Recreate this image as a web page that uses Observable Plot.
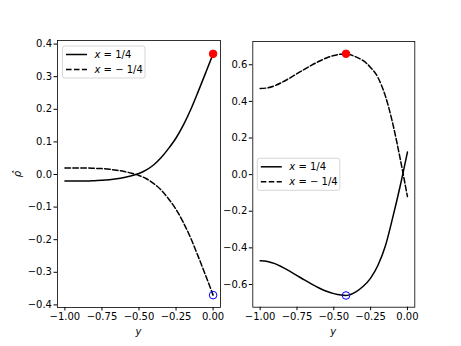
<!DOCTYPE html>
<html><head><meta charset="utf-8">
<script src="https://cdn.jsdelivr.net/npm/d3@7"></script>
<script src="https://cdn.jsdelivr.net/npm/@observablehq/plot@0.6"></script>
<style>
body{margin:0;background:#fff;}
#wrap{position:relative;width:461px;height:346px;font-family:"DejaVu Sans";}
#wrap svg{position:absolute;top:0;overflow:visible;}
</style></head><body><div id="wrap"></div>
<script>
// ---- data ----
const yLeft = [-1.00,-0.95,-0.90,-0.85,-0.80,-0.75,-0.70,-0.65,-0.60,-0.55,-0.50,-0.45,-0.40,-0.35,-0.30,-0.25,-0.20,-0.15,-0.10,-0.05,0.00];
const leftSolid  = [-0.020,-0.020,-0.020,-0.020,-0.019,-0.018,-0.016,-0.013,-0.009,-0.004,0.003,0.014,0.030,0.052,0.080,0.112,0.152,0.200,0.255,0.312,0.370];
const leftDashed = [0.020,0.020,0.020,0.020,0.019,0.018,0.016,0.013,0.009,0.004,-0.003,-0.013,-0.028,-0.048,-0.075,-0.107,-0.148,-0.196,-0.252,-0.310,-0.370];
const leftMax = [{y:0.0, v:0.37}];
const leftMin = [{y:0.0, v:-0.37}];

const yRight = [-1.00,-0.95,-0.90,-0.85,-0.80,-0.75,-0.70,-0.65,-0.60,-0.55,-0.50,-0.45,-0.42,-0.40,-0.35,-0.30,-0.25,-0.20,-0.15,-0.10,-0.05,0.00];
const rightSolid  = [-0.470,-0.474,-0.486,-0.505,-0.527,-0.551,-0.575,-0.598,-0.619,-0.637,-0.650,-0.658,-0.660,-0.658,-0.640,-0.610,-0.565,-0.495,-0.390,-0.235,-0.065,0.123];
const rightDashed = [0.470,0.474,0.486,0.505,0.527,0.551,0.575,0.598,0.619,0.637,0.650,0.658,0.660,0.657,0.643,0.622,0.585,0.530,0.430,0.280,0.090,-0.120];
const rightMax = [{y:-0.417, v:0.66}];
const rightMin = [{y:-0.417, v:-0.66}];

const xTicks = [-1.00,-0.75,-0.50,-0.25,0.00];
const leftYTicks = [-0.4,-0.3,-0.2,-0.1,0.0,0.1,0.2,0.3,0.4];
const rightYTicks = [-0.6,-0.4,-0.2,0.0,0.2,0.4,0.6];
const legendLabels = ["1/4", "\u2212 1/4"];
const xLabel = "y";
const yLabel = "\u03C1\u0302";

const rows = (ys, vs) => ys.map((y, i) => ({y, v: vs[i]}));

function panel({width, marginLeft, marginRight, marginTop, marginBottom, yDomain, yTicks, yFmt, solid, dashed, maxPt, minPt}) {
  return Plot.plot({
    width, height: 346, marginLeft, marginRight, marginTop, marginBottom,
    style: {fontFamily: "DejaVu Sans", fontSize: "10px", color: "black", background: "transparent", overflow: "visible"},
    x: {domain: [-1.05, 0.05]},
    y: {domain: yDomain},
    marks: [
      Plot.axisX({ticks: xTicks, tickFormat: d3.format(".2f"), tickSize: 3.5, tickPadding: 2, label: null, fontSize: 10}),
      Plot.axisY({ticks: yTicks, tickFormat: d3.format(yFmt), tickSize: 3.5, tickPadding: 2, label: null, fontSize: 10}),
      Plot.line(solid, {x: "y", y: "v", stroke: "black", strokeWidth: 1.5, curve: "monotone-x"}),
      Plot.line(dashed, {x: "y", y: "v", stroke: "black", strokeWidth: 1.5, strokeDasharray: "5.55,2.4", curve: "monotone-x"}),
      Plot.dot(maxPt, {x: "y", y: "v", r: 3.8, fill: "red", stroke: "red", strokeWidth: 1}),
      Plot.dot(minPt, {x: "y", y: "v", r: 3.8, fill: "none", stroke: "blue", strokeWidth: 1}),
      Plot.frame({stroke: "black", strokeWidth: 0.8})
    ]
  });
}

function addLegend(svg, bx, by) {
  const g = d3.select(svg).append("g").attr("text-anchor", "start");
  g.append("rect").attr("x", bx).attr("y", by).attr("width", 82.5).attr("height", 32)
    .attr("rx", 2).attr("fill", "white").attr("fill-opacity", 0.8).attr("stroke", "#cccccc").attr("stroke-width", 0.8);
  legendLabels.forEach((lab, i) => {
    const cy = by + 8.5 + i * 15;
    g.append("line").attr("x1", bx + 3.5).attr("x2", bx + 24.5).attr("y1", cy).attr("y2", cy)
      .attr("stroke", "black").attr("stroke-width", 1.5).attr("stroke-dasharray", i ? "5.55,2.4" : null);
    const t = g.append("text").attr("x", bx + 32).attr("y", cy + 3.6).attr("text-anchor", "start")
      .attr("font-family", "DejaVu Sans").attr("font-size", 10).attr("fill", "black");
    t.append("tspan").attr("font-style", "italic").text("x");
    t.append("tspan").text(" = " + lab);
  });
}

const wrap = document.getElementById("wrap");

const left = panel({width: 230, marginLeft: 57, marginRight: 10, marginTop: 40, marginBottom: 39,
  yDomain: [-0.408, 0.411], yTicks: leftYTicks, yFmt: ".1f",
  solid: rows(yLeft, leftSolid), dashed: rows(yLeft, leftDashed), maxPt: leftMax, minPt: leftMin});
left.style.left = "0px";
addLegend(left, 62.5, 46);
d3.select(left).append("text").attr("x", 138.5).attr("y", 335).attr("text-anchor", "middle")
  .attr("font-family", "DejaVu Sans").attr("font-size", 10).attr("font-style", "italic").text(xLabel);
d3.select(left).append("text").attr("transform", "translate(21,174) rotate(-90)").attr("text-anchor", "middle")
  .attr("font-family", "DejaVu Sans").attr("font-size", 10).attr("font-style", "italic").text(yLabel);
wrap.appendChild(left);

const right = panel({width: 231, marginLeft: 22.3, marginRight: 46.7, marginTop: 41, marginBottom: 39.3,
  yDomain: [-0.724, 0.727], yTicks: rightYTicks, yFmt: ".1f",
  solid: rows(yRight, rightSolid), dashed: rows(yRight, rightDashed), maxPt: rightMax, minPt: rightMin});
right.style.left = "230px";
addLegend(right, 257.3 - 230, 158.3);
d3.select(right).append("text").attr("x", 333.3 - 230).attr("y", 335).attr("text-anchor", "middle")
  .attr("font-family", "DejaVu Sans").attr("font-size", 10).attr("font-style", "italic").text(xLabel);
wrap.appendChild(right);
</script>
</body></html>
